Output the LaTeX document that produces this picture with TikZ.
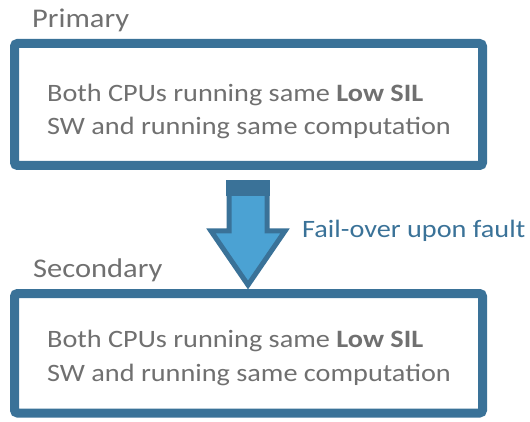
\documentclass[tikz,border=0pt]{standalone}
\usepackage{fontspec}
\setmainfont{Carlito}
\newfontfamily\widefont[FakeStretch=1.13]{Carlito}
\definecolor{boxline}{HTML}{3A7298}
\definecolor{arrowfill}{HTML}{4BA2D3}
\definecolor{arrowline}{HTML}{3A7298}
\definecolor{txtgray}{HTML}{707070}
\definecolor{txtblue}{HTML}{3A7298}
\begin{document}
\begin{tikzpicture}[x=1pt,y=-1pt,
  panel/.style={draw=boxline,line width=9pt,rounded corners=3pt,fill=white},
  heading/.style={anchor=base west,inner sep=0pt,text=txtgray,font=\widefont\fontsize{27}{32}\selectfont},
  bodytext/.style={anchor=base west,inner sep=0pt,text=txtgray,font=\widefont\fontsize{25}{30}\selectfont},
  note/.style={anchor=base west,inner sep=0pt,text=txtblue,font=\widefont\fontsize{25}{30}\selectfont}]
\useasboundingbox (0,0) rectangle (530,422);
% panels
\draw[panel] (14.5,43.5) rectangle (482.5,165.5);
\draw[panel] (14.5,293.5) rectangle (482.5,413);
% headings
\node[heading] (prim) at (32,28) {Primary};
\node[heading] (sec) at (33,277) {Secondary};
% body texts
\node[bodytext] (b1a) at (47,102) {Both CPUs running same \textbf{Low SIL}};
\node[bodytext] (b1b) at (47,135) {SW and running same computation};
\node[bodytext] (b2a) at (47,347) {Both CPUs running same \textbf{Low SIL}};
\node[bodytext] (b2b) at (47,381) {SW and running same computation};
% fail-over arrow
\draw[fill=arrowfill,draw=arrowline,line width=5pt,line join=miter]
  (229,184) -- (267,184) -- (267,231) -- (285,231) -- (248,285) -- (211,231) -- (229,231) -- cycle;
\fill[arrowline] (226,180) rectangle (270,196);
\node[note] (fo) at (302,237) {Fail-over upon fault};
\end{tikzpicture}
\end{document}
